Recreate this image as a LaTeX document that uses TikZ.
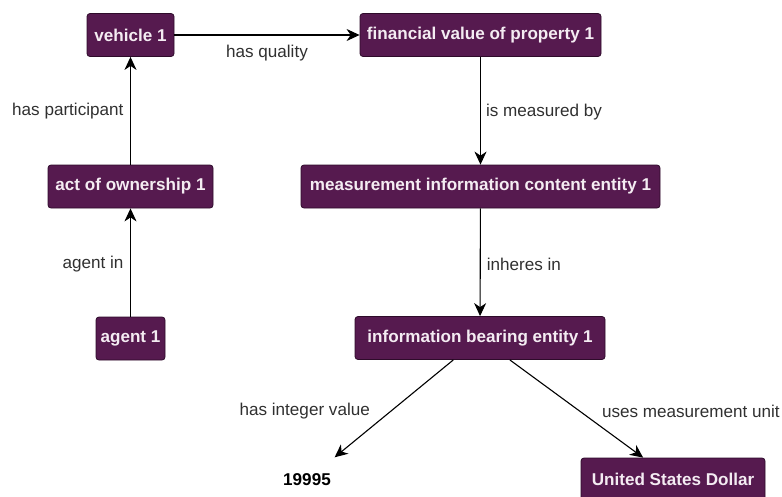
\documentclass[tikz,border=0pt]{standalone}
\usepackage{fontspec}
\setmainfont{Liberation Sans}
\usetikzlibrary{arrows.meta}
\definecolor{boxfill}{HTML}{561A4F}
\definecolor{boxline}{HTML}{2E0B2A}
\definecolor{boxtext}{HTML}{F4ECF2}
\definecolor{labeltext}{HTML}{303030}
\begin{document}
\begin{tikzpicture}[x=1pt,y=-1pt,
  entity/.style={draw=boxline, fill=boxfill, text=boxtext, rounded corners=3pt,
    font=\fontsize{17.1}{20}\selectfont\bfseries, minimum height=43pt, inner sep=0pt, line width=0.8pt},
  literal/.style={font=\fontsize{17.1}{20}\selectfont\bfseries, text=black,
    minimum height=45pt, minimum width=70pt, inner sep=0pt},
  rel/.style={draw=black, line width=1.1pt, -{Stealth[length=13pt,width=12pt,inset=4pt]}},
  lbl/.style={font=\fontsize{17.1}{20}\selectfont, text=labeltext, inner sep=0pt}]
\useasboundingbox (0,0) rectangle (782,496);
\clip (0,0) rectangle (782,496);
\node[entity, minimum width=87pt]  (v1)   at (130.5,35)    {vehicle 1};
\node[entity, minimum width=241pt] (fv)   at (480.5,35)    {financial value of property 1};
\node[entity, minimum width=165pt] (ao)   at (130.5,186.5) {act of ownership 1};
\node[entity, minimum width=359pt] (mice) at (480.5,186.5) {measurement information content entity 1};
\node[entity, minimum width=69pt]  (ag)   at (130.5,338.5) {agent 1};
\node[entity, minimum width=250pt] (ibe)  at (480,338)     {information bearing entity 1};
\node[entity, minimum width=184pt] (usd)  at (673,479.5)   {United States Dollar};
\node[literal] (num) at (307,480) {19995};

\draw[rel] (v1) -- node[lbl, midway, anchor=center, yshift=-18pt] {has quality} (fv);
\draw[rel] (ao) -- node[lbl, midway, anchor=east, xshift=-6.5pt] {has participant} (v1);
\draw[rel] (ag) -- node[lbl, midway, anchor=east, xshift=-6.5pt, yshift=-1.5pt] {agent in} (ao);
\draw[rel] (fv) -- node[lbl, midway, anchor=west, xshift=5pt, yshift=-1pt] {is measured by} (mice);
\draw[rel] (mice) -- node[lbl, midway, anchor=west, xshift=6pt, yshift=-2pt] {inheres in} (ibe);
\draw[rel] (ibe) -- node[lbl, pos=0.53, anchor=east, xshift=-20pt] {has integer value} (num);
\draw[rel] (ibe) -- node[lbl, pos=0.53, anchor=west, xshift=21pt] {uses measurement unit} (usd);
\end{tikzpicture}
\end{document}
